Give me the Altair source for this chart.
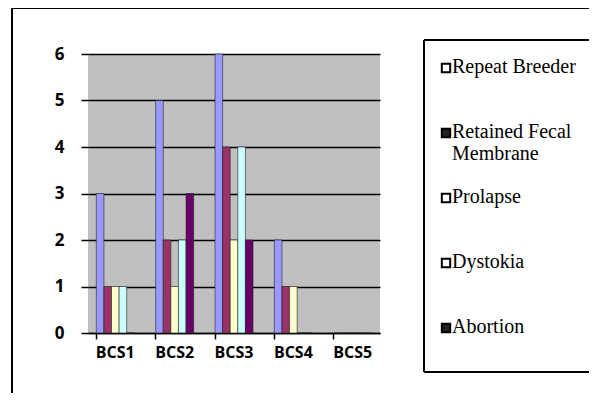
import altair as alt
import pandas as pd

categories = ["BCS1", "BCS2", "BCS3", "BCS4", "BCS5"]
series = ["Repeat Breeder", "Retained Fecal Membrane", "Prolapse", "Dystokia", "Abortion"]
legend_labels = ["Repeat Breeder", "Retained Fecal\nMembrane", "Prolapse", "Dystokia", "Abortion"]
colors = ["#9999FF", "#993366", "#FFFFCC", "#CCFFFF", "#660066"]
repeat_breeder = [3, 5, 6, 2, 0]
retained = [1, 2, 4, 1, 0]
prolapse = [1, 1, 2, 1, 0]
dystokia = [1, 2, 4, 0, 0]
abortion = [0, 3, 2, 0, 0]

values = [repeat_breeder, retained, prolapse, dystokia, abortion]
rows = []
for s, vals in zip(series, values):
    for c, v in zip(categories, vals):
        rows.append({"category": c, "series": s, "value": v})
df = pd.DataFrame(rows)
leg = pd.DataFrame({"series": series, "label": legend_labels})
one = pd.DataFrame({"a": [0]})

SANS = "Open Sans"
SERIF = "Liberation Serif"

bars = alt.Chart(df).mark_bar(stroke="#222", strokeWidth=0.6).encode(
    x=alt.X("category:N", sort=categories, title=None,
            scale=alt.Scale(paddingInner=0.36, paddingOuter=0.14),
            axis=alt.Axis(labelAngle=0, bandPosition=0, tickSize=6, tickColor="black",
                          tickWidth=1.5, domainColor="black", domainWidth=1.5,
                          labelFont=SANS, labelFontWeight="bold", labelFontSize=16,
                          labelColor="black", labelPadding=5, grid=False)),
    xOffset=alt.XOffset("series:N", sort=series, scale=alt.Scale(paddingInner=0, paddingOuter=0)),
    y=alt.Y("value:Q", title=None, scale=alt.Scale(domain=[0, 6], nice=False),
            axis=alt.Axis(values=[0, 1, 2, 3, 4, 5, 6], tickSize=7, tickColor="black",
                          tickWidth=1.5, domain=False, gridColor="black", gridWidth=1.5,
                          labelFont=SANS, labelFontWeight="bold", labelFontSize=17,
                          labelColor="black", labelPadding=17)),
    color=alt.Color("series:N", sort=series, scale=alt.Scale(domain=series, range=colors), legend=None),
)

outer_top = alt.Chart(one).mark_rule(color="black", strokeWidth=2).encode(
    x=alt.value(-76), x2=alt.value(600), y=alt.value(-46))
outer_left = alt.Chart(one).mark_rule(color="black", strokeWidth=2).encode(
    x=alt.value(-76), y=alt.value(-46), y2=alt.value(600))
legbox = alt.Chart(one).mark_rect(fill="white").encode(
    x=alt.value(336), x2=alt.value(600), y=alt.value(-14), y2=alt.value(318))
leg_top = alt.Chart(one).mark_rule(color="black", strokeWidth=2).encode(
    x=alt.value(336), x2=alt.value(600), y=alt.value(-14))
leg_bottom = alt.Chart(one).mark_rule(color="black", strokeWidth=2).encode(
    x=alt.value(336), x2=alt.value(600), y=alt.value(318))
leg_left = alt.Chart(one).mark_rule(color="black", strokeWidth=2).encode(
    x=alt.value(336), y=alt.value(-14), y2=alt.value(318))

ly = alt.Y("series:N", sort=series, scale=alt.Scale(type="point", range=[14, 274], padding=0), axis=None)
legsq = alt.Chart(leg).mark_square(size=70, stroke="black", strokeWidth=2, filled=True, opacity=1).encode(
    x=alt.value(358),
    y=ly,
    fill=alt.condition(alt.FieldOneOfPredicate(field="series", oneOf=["Retained Fecal Membrane", "Abortion"]),
                       alt.value("#222"), alt.value("white")),
)
legtxt = alt.Chart(leg).mark_text(align="left", baseline="top", dy=-11, font=SERIF,
                                  fontSize=20, lineBreak="\n", lineHeight=22, color="black").encode(
    x=alt.value(364),
    y=ly,
    text="label:N",
)

chart = alt.layer(outer_top, outer_left, bars, legbox, leg_top, leg_bottom, leg_left, legsq, legtxt).resolve_scale(
    y="independent", x="independent"
).properties(
    width=292, height=279,
    autosize=alt.AutoSizeParams(type="none"),
    padding={"left": 80, "top": 46, "right": 209, "bottom": 60},
    background="white",
).configure_view(fill="#C0C0C0", stroke=None)

chart.save("out.html", embed_options={"renderer": "svg", "actions": False})
